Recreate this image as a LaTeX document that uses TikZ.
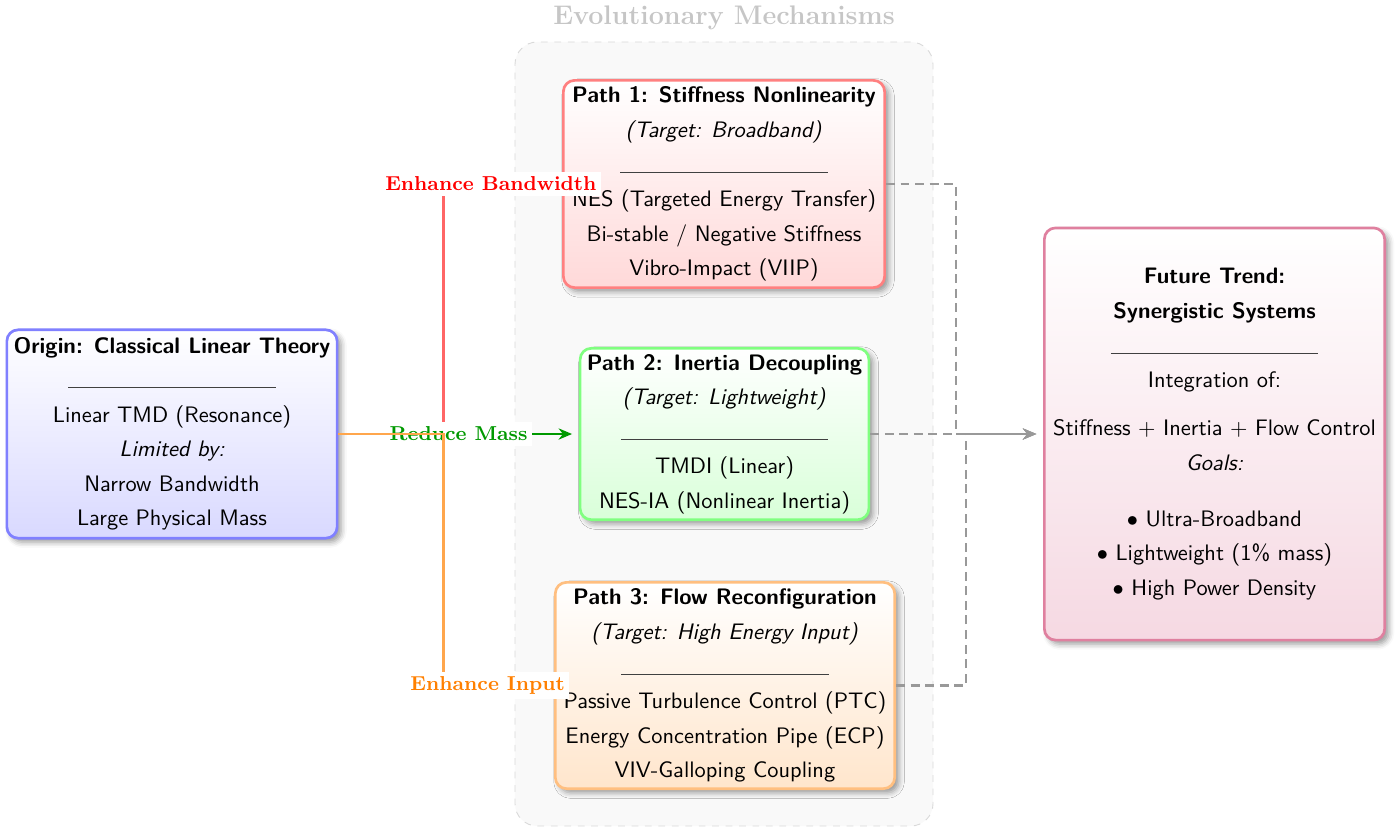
\documentclass[tikz,border=0pt]{standalone}
\usetikzlibrary{arrows.meta,shadows.blur}
\begin{document}
\begin{tikzpicture}[x=0.4464pt,y=-0.4464pt,
  box/.style={rounded corners=5pt, very thick, align=center, font=\sffamily,
    inner xsep=3pt, inner ysep=2pt,
    blur shadow={shadow xshift=1.8pt, shadow yshift=-1.8pt, shadow blur radius=2.5pt, shadow opacity=40}},
  container/.style={draw=gray!30, dashed, fill=gray!5, rounded corners=10pt, thin,
    minimum width=186.6pt, minimum height=350pt, inner sep=0pt},
  mtitle/.style={font=\large\bfseries, text=gray!45},
  lab/.style={fill=white, font=\small\bfseries, inner sep=2pt},
  link/.style={line width=1pt, -{Stealth[length=6pt,width=5pt]}, shorten >=3pt},
  flow/.style={draw=black!40, line width=1pt, dash pattern=on 4pt off 2.5pt, -{Stealth[length=6pt,width=5pt]}, shorten >=3pt},
]
\newcommand{\sep}{{\color{darkgray}\rule{92.5pt}{0.5pt}}}
\useasboundingbox (0,0) rectangle (1400,827);

% background container
\node[container] (mech) at (724,434) {};
\node[mtitle] (mtitletext) at (724,18) {Evolutionary Mechanisms};

% boxes
\node[box, draw=blue!50, top color=white, bottom color=blue!15,
  minimum width=145.2pt, minimum height=93pt] (origin) at (172,434)
  {\textbf{Origin: Classical Linear Theory}\\[3.4pt]
   \sep\\[3pt]
   Linear TMD (Resonance)\\[3.4pt]
   \textit{Limited by:}\\[3.4pt]
   Narrow Bandwidth\\[3.4pt]
   Large Physical Mass};

\node[box, draw=red!50, top color=white, bottom color=red!15,
  minimum width=143.4pt, minimum height=92.5pt] (p1) at (724,184)
  {\textbf{Path 1: Stiffness Nonlinearity}\\[3.4pt]
   \textit{(Target: Broadband)}\\[4pt]
   \sep\\[3pt]
   NES (Targeted Energy Transfer)\\[3.4pt]
   Bi-stable / Negative Stiffness\\[3.4pt]
   Vibro-Impact (VIIP)};

\node[box, draw=green!50, top color=white, bottom color=green!15,
  minimum width=126.9pt, minimum height=76.5pt] (p2) at (724.5,434)
  {\textbf{Path 2: Inertia Decoupling}\\[3.4pt]
   \textit{(Target: Lightweight)}\\[4pt]
   \sep\\[3pt]
   TMDI (Linear)\\[3.4pt]
   NES-IA (Nonlinear Inertia)};

\node[box, draw=orange!50, top color=white, bottom color=orange!20,
  minimum width=151.5pt, minimum height=92.1pt] (p3) at (725,685.5)
  {\textbf{Path 3: Flow Reconfiguration}\\[3.4pt]
   \textit{(Target: High Energy Input)}\\[4pt]
   \sep\\[3pt]
   Passive Turbulence Control (PTC)\\[3.4pt]
   Energy Concentration Pipe (ECP)\\[3.4pt]
   VIV-Galloping Coupling};

\node[box, draw=purple!50, top color=white, bottom color=purple!15,
  minimum width=151.9pt, minimum height=184pt] (future) at (1214.5,434)
  {\textbf{Future Trend:}\\[3.4pt]
   \textbf{Synergistic Systems}\\[4pt]
   \sep\\[3pt]
   Integration of:\\[9.4pt]
   Stiffness $+$ Inertia $+$ Flow Control\\[3.4pt]
   \textit{Goals:}\\[13pt]
   $\bullet$ Ultra-Broadband\\[3.4pt]
   $\bullet$ Lightweight (1\% mass)\\[3.4pt]
   $\bullet$ High Power Density};

% connectors from origin
\draw[link, draw=red!60] (origin.east) -- ++(105,0) |-
  node[pos=0.7, lab, text=red] {Enhance Bandwidth} (p1.west);
\draw[link, draw=green!60!black, fill=green!60!black] (origin.east) --
  node[lab, text=green!60!black] {Reduce Mass} (p2.west);
\draw[link, draw=orange!70] (origin.east) -- ++(105,0) |-
  node[pos=0.7, lab, text=orange] {Enhance Input} (p3.west);

% convergence
\draw[flow] (p1.east) -- ++(70,0) |- (future.west);
\draw[flow] (p2.east) -- (future.west);
\draw[flow] (p3.east) -- ++(70,0) |- (future.west);
\end{tikzpicture}
\end{document}
